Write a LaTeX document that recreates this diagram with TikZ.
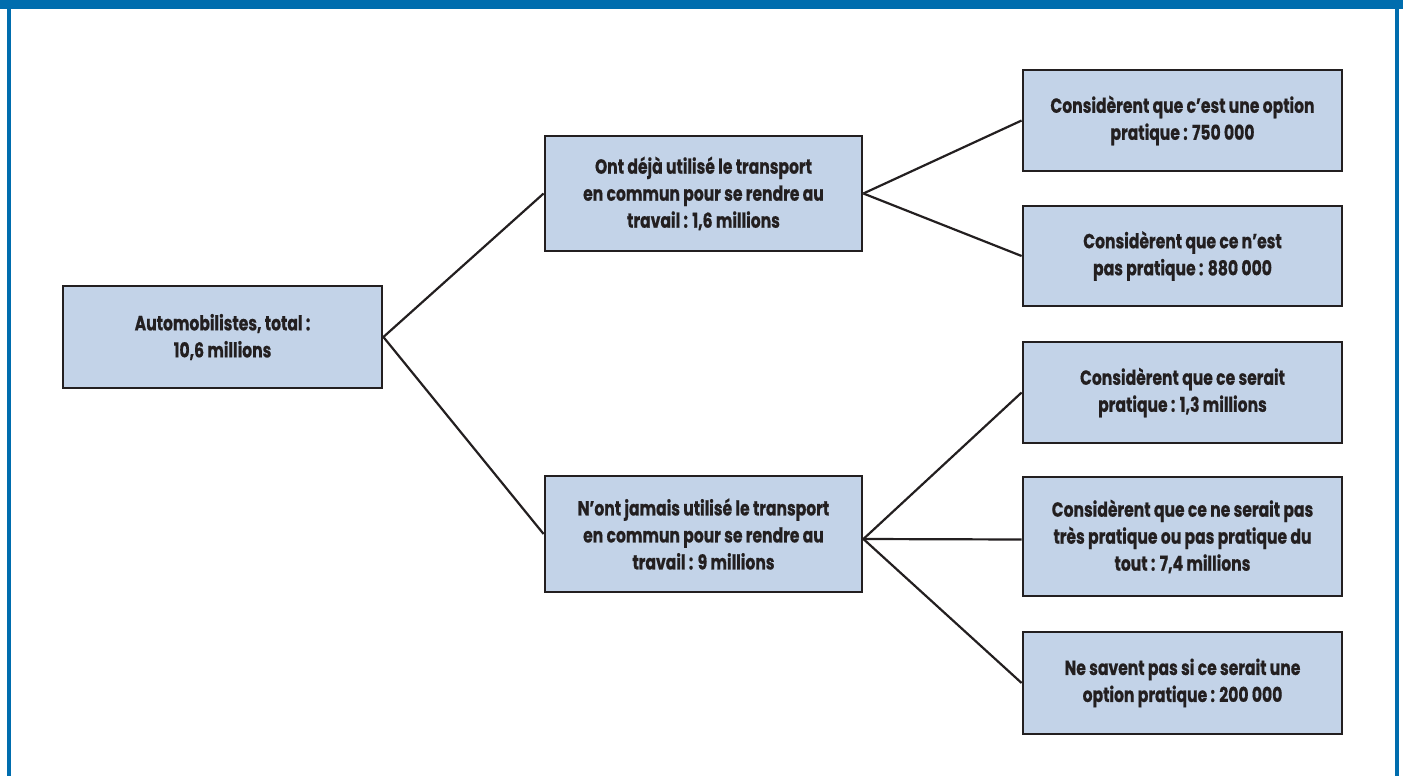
\documentclass[tikz,border=0pt]{standalone}
\usepackage{fontspec}
\usetikzlibrary{calc}
\setmainfont{Poppins}[FakeStretch=0.76, FakeBold=0.6, UprightFont=* Bold, BoldFont=* Bold]
\definecolor{frameblue}{HTML}{006DAE}
\definecolor{boxfill}{HTML}{C3D3E8}
\definecolor{ink}{HTML}{231F20}
\begin{document}
\begin{tikzpicture}[x=1pt,y=-1pt,
  box/.style={draw=ink, line width=2.8pt, fill=boxfill, text=ink, align=center,
    inner sep=0pt, font=\fontsize{20.5}{27}\selectfont},
  link/.style={draw=ink, line width=2.2pt}]
\useasboundingbox (0,0) rectangle (1403,776);
% frame
\fill[frameblue] (0,0) rectangle (1403,9);
\fill[frameblue] (7,0) rectangle (11,776);
\fill[frameblue] (1395,0) rectangle (1399,776);
% nodes
\node[box, minimum width=319pt, minimum height=102pt] (root) at (222.5,337) {Automobilistes, total :\\10,6 millions};
\node[box, minimum width=317pt, minimum height=115pt] (up) at (703.5,193.5) {Ont déjà utilisé le transport\\en commun pour se rendre au\\travail : 1,6 millions};
\node[box, minimum width=317pt, minimum height=116pt] (lo) at (703.5,534) {N’ont jamais utilisé le transport\\en commun pour se rendre au\\travail : 9 millions};
\node[box, minimum width=319pt, minimum height=101pt] (r1) at (1182.5,120.5) {Considèrent que c’est une option\\pratique : 750 000};
\node[box, minimum width=319pt, minimum height=100pt] (r2) at (1182.5,256) {Considèrent que ce n’est\\pas pratique : 880 000};
\node[box, minimum width=319pt, minimum height=101pt] (r3) at (1182.5,392.5) {Considèrent que ce serait\\pratique : 1,3 millions};
\node[box, minimum width=319pt, minimum height=119pt] (r4) at (1182.5,536.5) {Considèrent que ce ne serait pas\\très pratique ou pas pratique du\\tout : 7,4 millions};
\node[box, minimum width=319pt, minimum height=102pt] (r5) at (1182.5,683) {Ne savent pas si ce serait une\\option pratique : 200 000};
\coordinate (loE) at ($(lo.east)+(0,5)$);
\coordinate (r4W) at ($(r4.west)+(0,3)$);
% connectors
\draw[link] (root.east) -- (up.west);
\draw[link] (root.east) -- (lo.west);
\draw[link] (up.east) -- (r1.west);
\draw[link] (up.east) -- (r2.west);
\draw[link] (loE) -- (r3.west);
\draw[link] (loE) -- (r4W);
\draw[link] (loE) -- (r5.west);
\end{tikzpicture}
\end{document}
